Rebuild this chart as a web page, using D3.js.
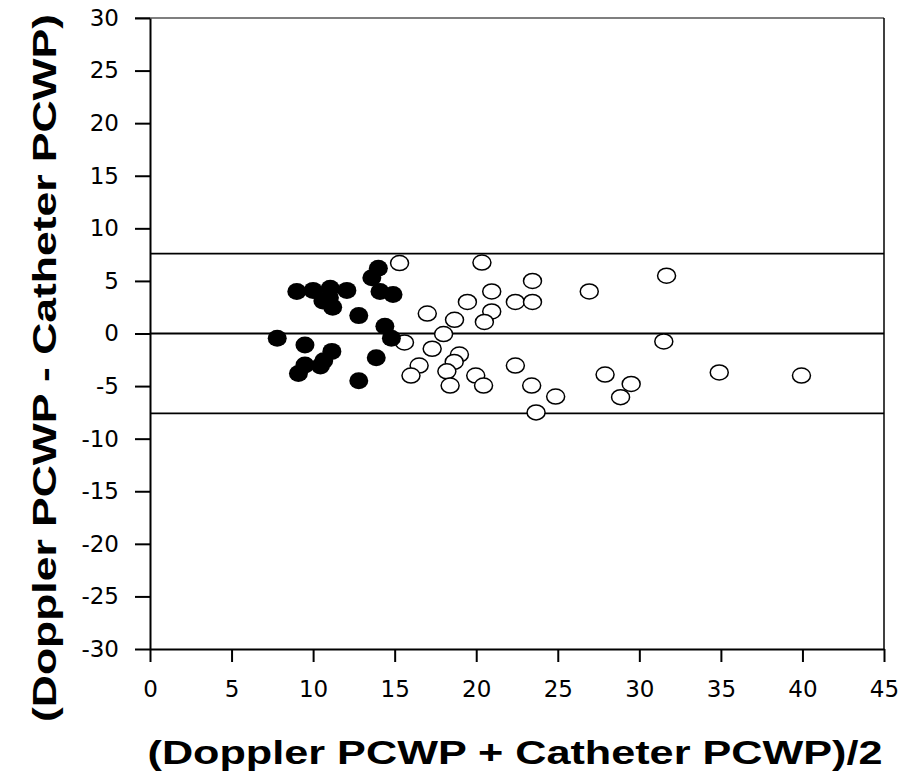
<!DOCTYPE html>
<html>
<head>
<meta charset="utf-8">
<script src="https://cdn.jsdelivr.net/npm/d3@7"></script>
<style>
  body { margin: 0; background: #fff; }
  text { font-family: "Liberation Sans", Arial, sans-serif; fill: #000; }
</style>
</head>
<body>
<div id="chart"></div>
<script>
// filled points: [mean, difference]
const filledMean = [9.0, 10.0, 11.05, 12.07, 10.6, 11.2, 11.0, 12.8, 14.0, 13.6, 14.1, 14.9, 14.4, 14.8,
  7.8, 9.5, 11.15, 10.65, 9.5, 9.1, 10.45, 13.87, 12.8];
const filledDiff = [4.0, 4.1, 4.3, 4.1, 3.1, 2.5, 3.4, 1.7, 6.2, 5.3, 4.0, 3.7, 0.7, -0.45,
  -0.45, -1.1, -1.7, -2.6, -3.0, -3.8, -3.1, -2.3, -4.5];

// open points
const openMean = [15.3, 20.35, 23.45, 20.95, 19.46, 22.4, 23.45, 20.95, 17.0, 18.67, 20.5, 18.0, 15.6, 17.3,
  18.97, 18.65, 16.5, 22.4, 16.0, 18.2, 19.97, 18.4, 20.45, 23.4, 24.87, 23.67,
  26.93, 31.67, 31.5, 27.9, 29.5, 28.85, 34.9, 39.94];
const openDiff = [6.7, 6.75, 5.0, 4.0, 3.0, 3.0, 3.0, 2.1, 1.9, 1.3, 1.1, -0.05, -0.85, -1.45,
  -2.0, -2.7, -3.05, -3.05, -4.0, -3.6, -4.0, -4.95, -4.95, -4.95, -6.0, -7.5,
  4.0, 5.5, -0.76, -3.9, -4.8, -6.05, -3.7, -4.0];

const refLines = [7.6, 0, -7.6];
const xTicks = [0, 5, 10, 15, 20, 25, 30, 35, 40, 45];
const yTicks = [30, 25, 20, 15, 10, 5, 0, -5, -10, -15, -20, -25, -30];

const width = 911, height = 776;
const margin = { left: 150, right: 27, top: 18, bottom: 127 };

const svg = d3.select("#chart").append("svg")
    .attr("width", width)
    .attr("height", height);

const x = d3.scaleLinear().domain([0, 45]).range([margin.left, width - margin.right]);
const y = d3.scaleLinear().domain([-30, 30]).range([height - margin.bottom, margin.top]);

// frame: top and right thin lines
svg.append("line")
    .attr("x1", x(0) - 15).attr("x2", x(45))
    .attr("y1", y(30)).attr("y2", y(30))
    .attr("stroke", "#000").attr("stroke-width", 1.2);
svg.append("line")
    .attr("x1", x(45)).attr("x2", x(45))
    .attr("y1", y(30)).attr("y2", y(-30))
    .attr("stroke", "#000").attr("stroke-width", 1.5);

// reference lines
svg.append("g").selectAll("line")
    .data(refLines)
    .enter().append("line")
    .attr("x1", x(0)).attr("x2", x(45))
    .attr("y1", d => y(d)).attr("y2", d => y(d))
    .attr("stroke", "#000").attr("stroke-width", 1.8);

// axes
const xAxis = svg.append("g")
    .attr("transform", `translate(0,${y(-30)})`)
    .call(d3.axisBottom(x).tickValues(xTicks).tickSize(13).tickPadding(19).tickSizeOuter(0)
      .tickFormat(d => String(d)));
const yAxis = svg.append("g")
    .attr("transform", `translate(${x(0)},0)`)
    .call(d3.axisLeft(y).tickValues(yTicks).tickSize(15).tickPadding(16).tickSizeOuter(0)
      .tickFormat(d => String(d)));

[xAxis, yAxis].forEach(ax => {
  ax.select(".domain").attr("stroke", "#000").attr("stroke-width", 2);
  ax.selectAll(".tick line").attr("stroke", "#000").attr("stroke-width", 2);
  ax.selectAll(".tick text")
      .style("font-size", "23px")
      .style("font-family", "'DejaVu Sans', sans-serif")
      .attr("fill", "#000");
});

// points
const filled = filledMean.map((m, i) => ({ m, d: filledDiff[i] }));
const open = openMean.map((m, i) => ({ m, d: openDiff[i] }));

svg.append("g").selectAll("ellipse")
    .data(open)
    .enter().append("ellipse")
    .attr("cx", d => x(d.m))
    .attr("cy", d => y(d.d))
    .attr("rx", 9)
    .attr("ry", 7.5)
    .attr("fill", "#fff")
    .attr("stroke", "#000")
    .attr("stroke-width", 1.5);

svg.append("g").selectAll("ellipse")
    .data(filled)
    .enter().append("ellipse")
    .attr("cx", d => x(d.m))
    .attr("cy", d => y(d.d))
    .attr("rx", 9.5)
    .attr("ry", 8.5)
    .attr("fill", "#000");

// axis titles
svg.append("text")
    .attr("x", (x(0) + x(45)) / 2 - 2)
    .attr("y", 764)
    .attr("text-anchor", "middle")
    .attr("font-size", 34)
    .attr("font-weight", "bold")
    .attr("textLength", 735)
    .attr("lengthAdjust", "spacingAndGlyphs")
    .text("(Doppler PCWP + Catheter PCWP)/2");

svg.append("text")
    .attr("transform", `translate(56,${368}) rotate(-90)`)
    .attr("text-anchor", "middle")
    .attr("font-size", 34)
    .attr("font-weight", "bold")
    .attr("textLength", 708)
    .attr("lengthAdjust", "spacingAndGlyphs")
    .text("(Doppler PCWP - Catheter PCWP)");
</script>
</body>
</html>
